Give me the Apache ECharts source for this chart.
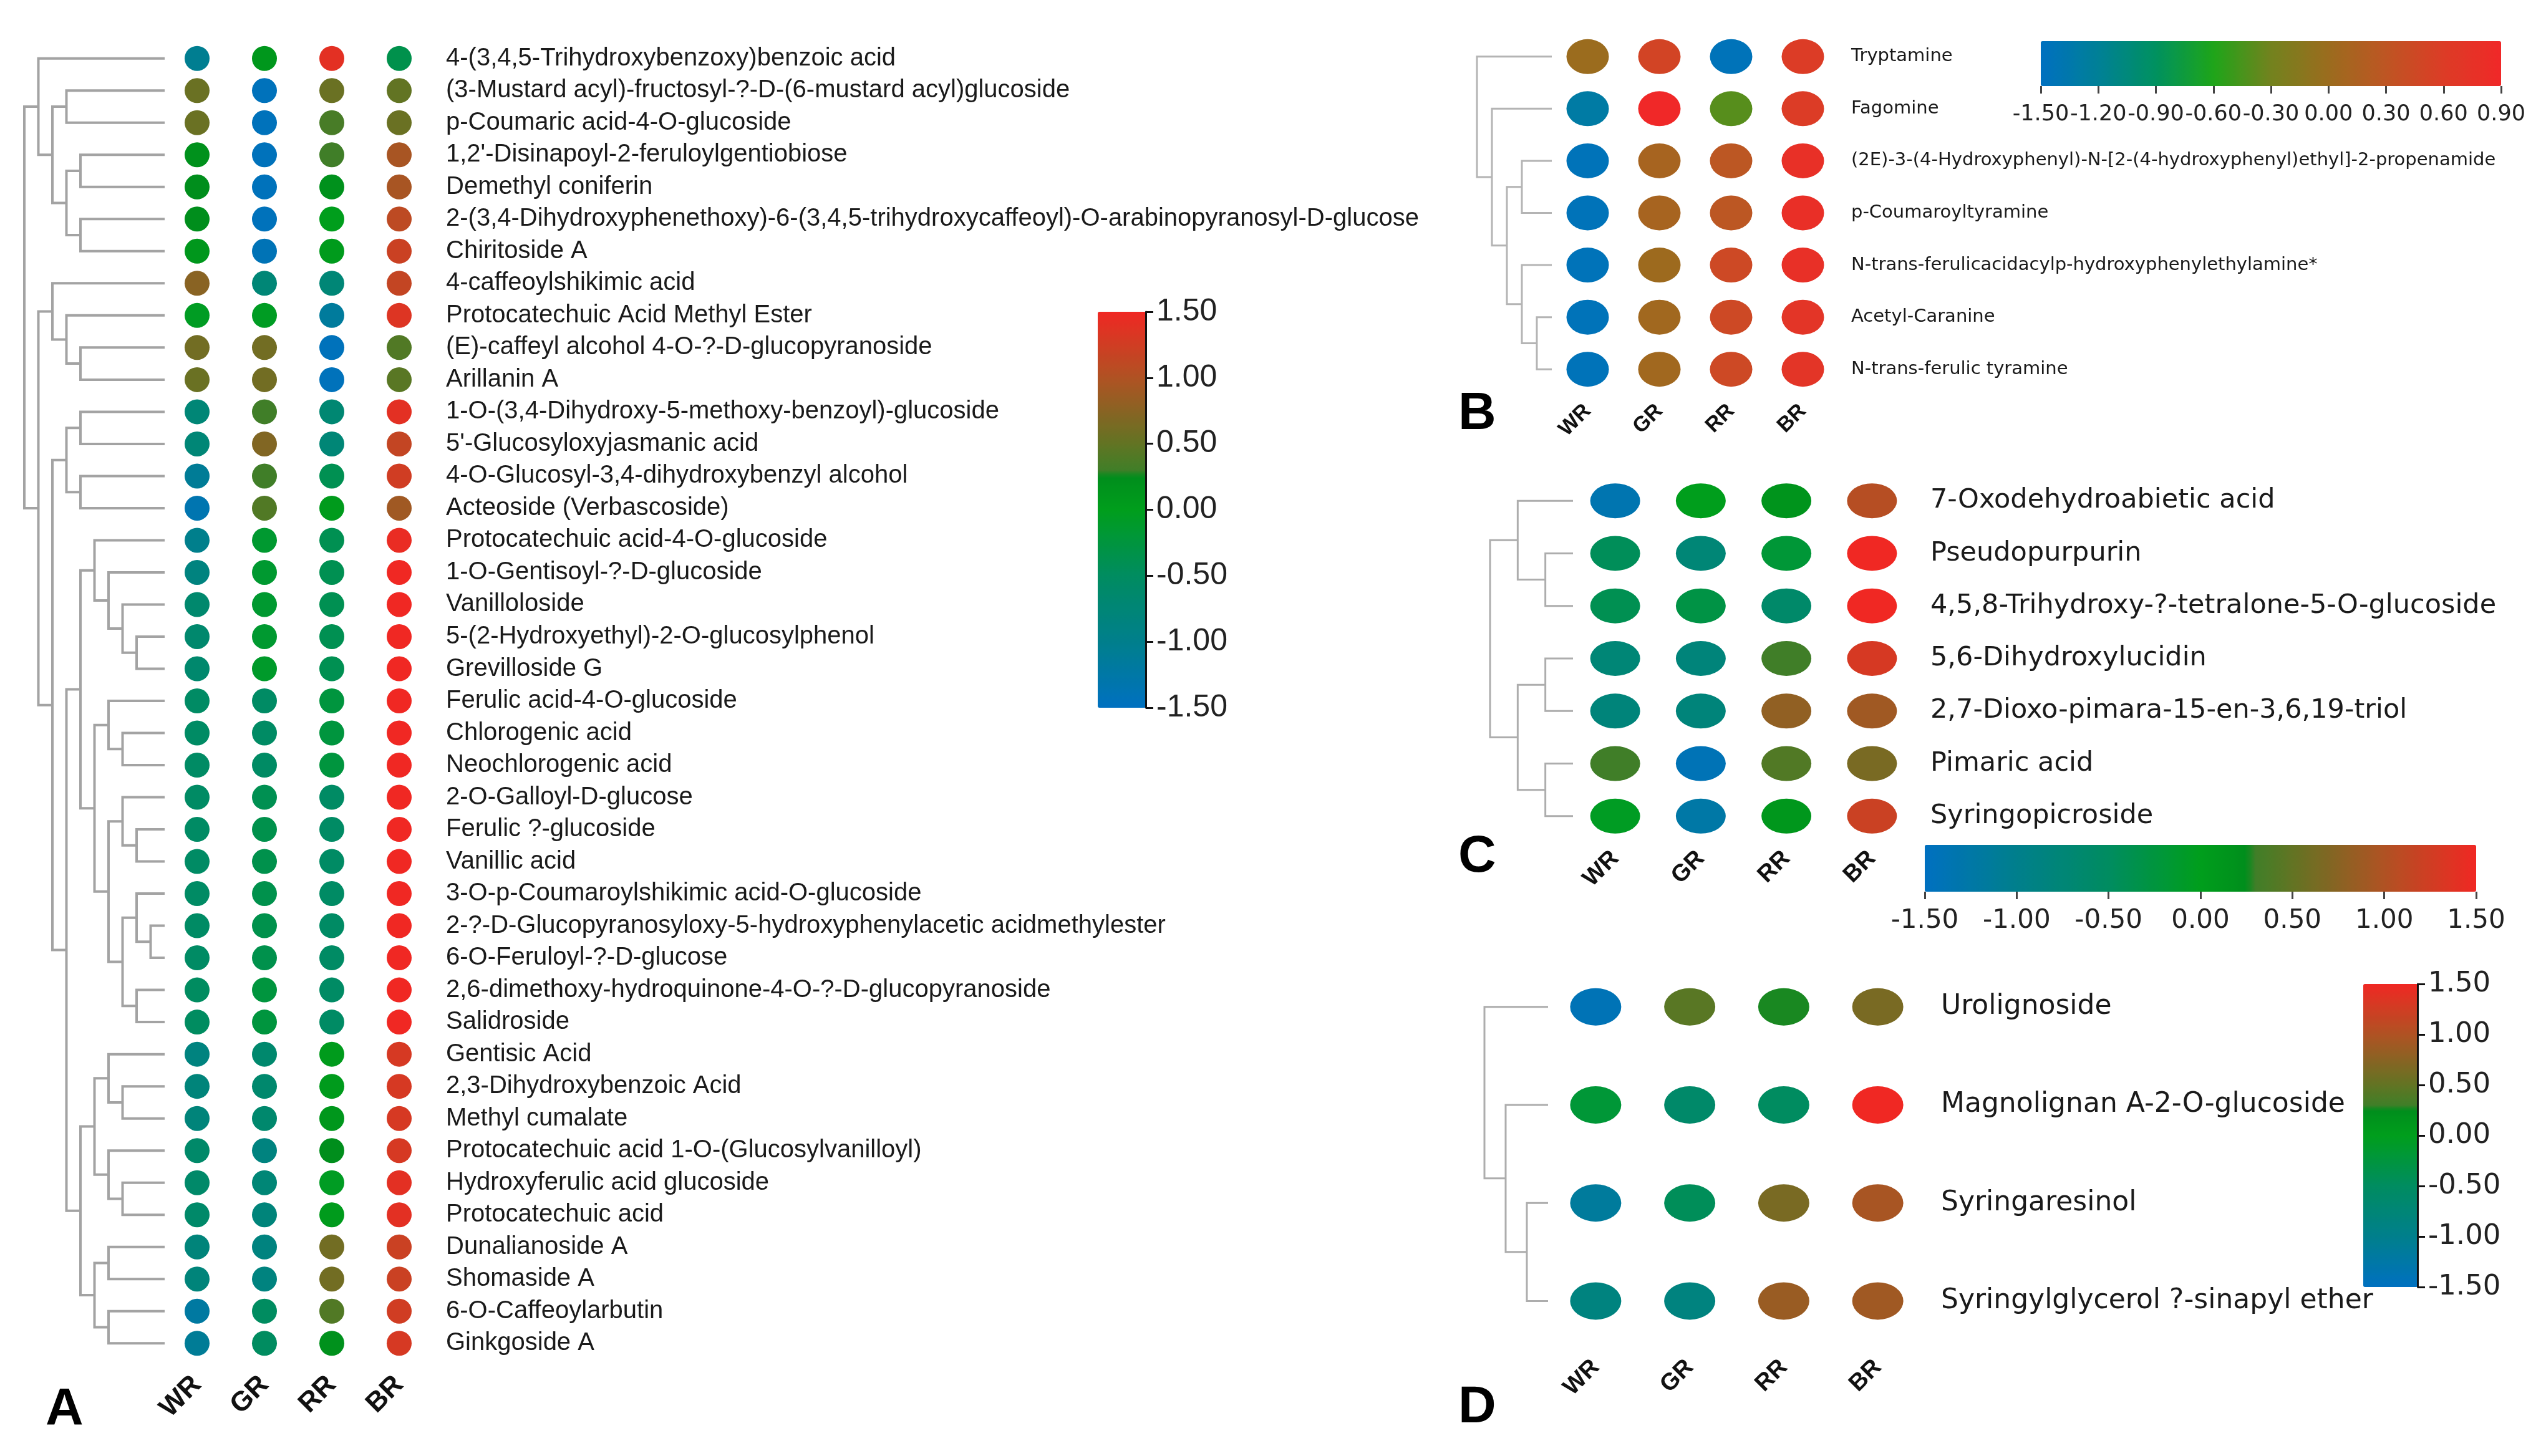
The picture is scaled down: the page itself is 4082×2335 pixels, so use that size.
<!DOCTYPE html>
<html><head><meta charset="utf-8">
<script src="https://cdn.jsdelivr.net/npm/echarts@6/dist/echarts.min.js"></script>
<style>html,body{margin:0;padding:0;background:#fff}#c{width:4082px;height:2335px}</style>
</head><body><div id="c"></div>
<script>
// ---------------- DATA ----------------
const groups = ['WR', 'GR', 'RR', 'BR'];

const namesA = [
 '4-(3,4,5-Trihydroxybenzoxy)benzoic acid',
 '(3-Mustard acyl)-fructosyl-?-D-(6-mustard acyl)glucoside',
 'p-Coumaric acid-4-O-glucoside',
 "1,2'-Disinapoyl-2-feruloylgentiobiose",
 'Demethyl coniferin',
 '2-(3,4-Dihydroxyphenethoxy)-6-(3,4,5-trihydroxycaffeoyl)-O-arabinopyranosyl-D-glucose',
 'Chiritoside A',
 '4-caffeoylshikimic acid',
 'Protocatechuic Acid Methyl Ester',
 '(E)-caffeyl alcohol 4-O-?-D-glucopyranoside',
 'Arillanin A',
 '1-O-(3,4-Dihydroxy-5-methoxy-benzoyl)-glucoside',
 "5'-Glucosyloxyjasmanic acid",
 '4-O-Glucosyl-3,4-dihydroxybenzyl alcohol',
 'Acteoside (Verbascoside)',
 'Protocatechuic acid-4-O-glucoside',
 '1-O-Gentisoyl-?-D-glucoside',
 'Vanilloloside',
 '5-(2-Hydroxyethyl)-2-O-glucosylphenol',
 'Grevilloside G',
 'Ferulic acid-4-O-glucoside',
 'Chlorogenic acid',
 'Neochlorogenic acid',
 '2-O-Galloyl-D-glucose',
 'Ferulic ?-glucoside',
 'Vanillic acid',
 '3-O-p-Coumaroylshikimic acid-O-glucoside',
 '2-?-D-Glucopyranosyloxy-5-hydroxyphenylacetic acidmethylester',
 '6-O-Feruloyl-?-D-glucose',
 '2,6-dimethoxy-hydroquinone-4-O-?-D-glucopyranoside',
 'Salidroside',
 'Gentisic Acid',
 '2,3-Dihydroxybenzoic Acid',
 'Methyl cumalate',
 'Protocatechuic acid 1-O-(Glucosylvanilloyl)',
 'Hydroxyferulic acid glucoside',
 'Protocatechuic acid',
 'Dunalianoside A',
 'Shomaside A',
 '6-O-Caffeoylarbutin',
 'Ginkgoside A'
];
// columns: WR, GR, RR, BR
const valuesA = [
 [-1.05, 0.10, 1.40, -0.35],
 [0.55, -1.45, 0.55, 0.50],
 [0.55, -1.45, 0.35, 0.55],
 [0.20, -1.45, 0.30, 0.95],
 [0.25, -1.45, 0.20, 0.95],
 [0.25, -1.45, 0.00, 1.10],
 [0.10, -1.40, 0.05, 1.20],
 [0.75, -0.75, -0.75, 1.15],
 [-0.05, -0.05, -1.15, 1.35],
 [0.60, 0.60, -1.45, 0.40],
 [0.55, 0.60, -1.45, 0.45],
 [-0.75, 0.30, -0.70, 1.40],
 [-0.75, 0.70, -0.75, 1.15],
 [-1.10, 0.30, -0.40, 1.25],
 [-1.35, 0.40, 0.05, 0.90],
 [-1.00, -0.15, -0.40, 1.45],
 [-0.85, -0.15, -0.40, 1.50],
 [-0.65, -0.15, -0.40, 1.50],
 [-0.65, -0.15, -0.40, 1.50],
 [-0.65, -0.10, -0.40, 1.50],
 [-0.55, -0.55, -0.25, 1.50],
 [-0.55, -0.55, -0.25, 1.50],
 [-0.55, -0.55, -0.25, 1.50],
 [-0.55, -0.40, -0.55, 1.50],
 [-0.55, -0.35, -0.55, 1.50],
 [-0.55, -0.35, -0.55, 1.50],
 [-0.55, -0.35, -0.55, 1.50],
 [-0.55, -0.35, -0.55, 1.50],
 [-0.55, -0.35, -0.55, 1.50],
 [-0.50, -0.25, -0.55, 1.50],
 [-0.50, -0.25, -0.55, 1.50],
 [-0.85, -0.65, 0.05, 1.30],
 [-0.80, -0.65, 0.05, 1.30],
 [-0.80, -0.65, 0.10, 1.30],
 [-0.60, -0.85, 0.25, 1.30],
 [-0.60, -0.75, -0.05, 1.40],
 [-0.60, -0.80, 0.05, 1.40],
 [-0.80, -0.85, 0.60, 1.20],
 [-0.80, -0.85, 0.60, 1.20],
 [-1.20, -0.50, 0.40, 1.25],
 [-1.10, -0.50, 0.20, 1.30]
];
// dendrogram: [mergeLevel, left, right]; numbers are leaf rows
const treeA = [0,
  [1, 0, [2, [3, 1, 2], [3, [4, 3, 4], [4, 5, 6]]]],
  [1,
    [2, 7, [3, 8, [4, 9, 10]]],
    [2,
      [3, [4, 11, 12], [4, 13, 14]],
      [3,
        [4,
          [5, 15, [6, 16, [7, 17, [8, 18, 19]]]],
          [5, [6, 20, [7, 21, 22]],
              [6, [7, 23, [8, 24, 25]], [7, [8, 26, [9, 27, 28]], [8, 29, 30]]]]],
        [4,
          [5, [6, 31, [7, 32, 33]], [6, 34, [7, 35, 36]]],
          [5, [6, 37, 38], [6, 39, 40]]]]]]];
const leafLevelA = 10;

const namesB = ['Tryptamine', 'Fagomine',
 '(2E)-3-(4-Hydroxyphenyl)-N-[2-(4-hydroxyphenyl)ethyl]-2-propenamide',
 'p-Coumaroyltyramine', 'N-trans-ferulicacidacylp-hydroxyphenylethylamine*',
 'Acetyl-Caranine', 'N-trans-ferulic tyramine'];
const valuesB = [
 [0.00, 0.50, -1.45, 0.60],
 [-1.30, 0.90, -0.40, 0.60],
 [-1.45, 0.10, 0.28, 0.78],
 [-1.45, 0.10, 0.28, 0.80],
 [-1.45, 0.02, 0.45, 0.78],
 [-1.45, 0.05, 0.45, 0.70],
 [-1.45, 0.05, 0.45, 0.70]
];
const treeB = [0, 0, [1, 1, [2, [3, 2, 3], [3, 4, [4, 5, 6]]]]];
const leafLevelB = 5;

const namesC = ['7-Oxodehydroabietic acid', 'Pseudopurpurin',
 '4,5,8-Trihydroxy-?-tetralone-5-O-glucoside', '5,6-Dihydroxylucidin',
 '2,7-Dioxo-pimara-15-en-3,6,19-triol', 'Pimaric acid', 'Syringopicroside'];
const valuesC = [
 [-1.35, 0.00, 0.15, 1.05],
 [-0.45, -0.75, -0.20, 1.50],
 [-0.40, -0.30, -0.60, 1.50],
 [-0.75, -0.80, 0.30, 1.30],
 [-0.80, -0.80, 0.80, 0.90],
 [0.30, -1.40, 0.40, 0.65],
 [-0.05, -1.25, 0.10, 1.20]
];
const treeC = [0, [1, 0, [2, 1, 2]], [1, [2, 3, 4], [2, 5, 6]]];
const leafLevelC = 3;

const namesD = ['Urolignoside', 'Magnolignan A-2-O-glucoside', 'Syringaresinol',
 'Syringylglycerol ?-sinapyl ether'];
const valuesD = [
 [-1.40, 0.45, 0.27, 0.65],
 [-0.20, -0.60, -0.50, 1.50],
 [-1.15, -0.45, 0.65, 0.95],
 [-0.85, -0.85, 0.85, 0.90]
];
const treeD = [0, 0, [1, 1, [2, 2, 3]]];
const leafLevelD = 3;

// colour-scale ranges [min, max, tick interval]
const scaleA = [-1.5, 1.5, 0.5];
const scaleB = [-1.5, 0.9, 0.3];
const scaleC = [-1.5, 1.5, 0.5];
const scaleD = [-1.5, 1.5, 0.5];

// ---------------- STYLE ----------------
const stopsMain = [[-1.5,[0,112,192]],[-1.0,[0,127,140]],[-0.5,[0,140,96]],[0.0,[0,158,28]],
  [0.26,[0,141,28]],[0.29,[62,127,40]],[0.5,[98,116,35]],[1.0,[176,82,35]],[1.5,[240,40,35]]];
const stopsB = [[-1.5,[0,112,192]],[-1.2,[0,128,150]],[-0.9,[0,145,95]],[-0.6,[30,165,25]],
  [-0.3,[115,130,30]],[0.0,[155,108,30]],[0.3,[190,85,35]],[0.6,[220,60,38]],[0.9,[240,40,40]]];
function ramp(stops, n) {
  const lo = stops[0][0], hi = stops[stops.length - 1][0], out = [];
  for (let i = 0; i < n; i++) {
    const v = lo + (hi - lo) * i / (n - 1);
    let k = 0;
    while (k < stops.length - 2 && v > stops[k + 1][0]) k++;
    const [v0, c0] = stops[k], [v1, c1] = stops[k + 1];
    const t = Math.min(1, Math.max(0, (v - v0) / (v1 - v0)));
    out.push('rgb(' + c0.map((x, j) => Math.round(x + (c1[j] - x) * t)).join(',') + ')');
  }
  return out;
}
const ELLIPSE = 'path://M0 50 A50 50 0 1 1 100 50 A50 50 0 1 1 0 50 Z';
const SANS = 'Liberation Sans, Arial, sans-serif';
const WIDE = 'DejaVu Sans, sans-serif';

const grids = [], xAxes = [], yAxes = [], series = [], visualMaps = [];

function treeSegments(tree, leafLevel) {
  const segs = [];
  (function walk(n) {
    if (typeof n === 'number') return [leafLevel, n];
    const [h, a, b] = n;
    const pa = walk(a), pb = walk(b);
    segs.push({ coords: [pa, [h, pa[1]], [h, pb[1]], pb] });
    return [h, (pa[1] + pb[1]) / 2];
  })(tree);
  return segs;
}

function panel(p) {
  const gi = grids.length;
  grids.push({ left: p.dLeft, top: p.top, width: p.dWidth, height: p.height });
  grids.push({ left: p.gLeft, top: p.top, width: p.gWidth, height: p.height });
  xAxes.push({ gridIndex: gi, type: 'value', min: 0, max: p.leafLevel, show: false });
  yAxes.push({ gridIndex: gi, type: 'value', min: -0.5, max: p.names.length - 0.5, inverse: true, show: false });
  xAxes.push({ gridIndex: gi + 1, type: 'category', data: groups, position: 'bottom',
    axisLine: { show: false }, axisTick: { show: false }, splitLine: { show: false },
    axisLabel: { interval: 0, rotate: 45, margin: p.xMargin, fontSize: p.xFont, fontWeight: 'bold',
      fontFamily: SANS, color: '#111' } });
  yAxes.push({ gridIndex: gi + 1, type: 'category', data: p.names, inverse: true, position: 'right',
    axisLine: { show: false }, axisTick: { show: false }, splitLine: { show: false },
    axisLabel: { interval: 0, margin: p.lMargin, fontSize: p.lFont, fontFamily: p.lFamily, color: '#1a1a1a' } });
  series.push({ type: 'lines', coordinateSystem: 'cartesian2d', xAxisIndex: gi, yAxisIndex: gi,
    polyline: true, silent: true, data: treeSegments(p.tree, p.leafLevel),
    lineStyle: { color: p.lineColor, width: p.lineWidth, opacity: 1 } });
  const si = series.length;
  series.push({ type: 'scatter', xAxisIndex: gi + 1, yAxisIndex: gi + 1, silent: true,
    symbol: p.symbol, symbolSize: p.size, itemStyle: { opacity: 1 },
    data: p.values.flatMap((row, r) => row.map((v, c) => [c, r, v])) });
  return si;
}

function colorbar(o) {
  visualMaps.push({ type: 'continuous', seriesIndex: o.series, dimension: 2,
    min: o.scale[0], max: o.scale[1], orient: o.orient, left: o.x, top: o.y, z: 2,
    itemWidth: o.thick, itemHeight: o.len, calculable: false, padding: 0, hoverLink: false,
    inRange: { color: ramp(o.stops, 121) } });
  const gi = grids.length;
  const fmt = v => (Math.abs(v) < 1e-9 ? 0 : v).toFixed(2);
  const ax = { type: 'value', min: o.scale[0], max: o.scale[1], interval: o.scale[2], z: 8,
    axisLine: { show: o.line, lineStyle: { color: '#111', width: 3 } },
    axisTick: { show: true, length: 12, lineStyle: { color: o.line ? '#111' : '#444', width: 3 } },
    splitLine: { show: false },
    axisLabel: { formatter: fmt, fontSize: o.font, fontFamily: o.family, color: '#222', margin: o.margin,
      showMinLabel: true, showMaxLabel: true, hideOverlap: false } };
  if (o.orient === 'vertical') {
    grids.push({ left: o.x + o.thick - 1, top: o.y, width: 1, height: o.len });
    xAxes.push({ gridIndex: gi, type: 'value', show: false });
    yAxes.push(Object.assign({ gridIndex: gi, position: 'right' }, ax));
  } else {
    grids.push({ left: o.x, top: o.y + o.thick - 1, width: o.len, height: 1 });
    xAxes.push(Object.assign({ gridIndex: gi, position: 'bottom' }, ax));
    yAxes.push({ gridIndex: gi, type: 'value', show: false });
  }
}

const sA = panel({ names: namesA, values: valuesA, tree: treeA, leafLevel: leafLevelA,
  dLeft: 39, dWidth: 225, gLeft: 262, gWidth: 432, top: 68, height: 2112,
  lFont: 40, lFamily: SANS, lMargin: 21, xFont: 44, xMargin: 34,
  symbol: 'circle', size: 40, lineColor: '#a3a3a3', lineWidth: 4 });
const sB = panel({ names: namesB, values: valuesB, tree: treeB, leafLevel: leafLevelB,
  dLeft: 2368, dWidth: 120, gLeft: 2488, gWidth: 460, top: 49, height: 585,
  lFont: 29, lFamily: WIDE, lMargin: 20, xFont: 34, xMargin: 20,
  symbol: ELLIPSE, size: [68, 56], lineColor: '#b4b4b4', lineWidth: 3 });
const sC = panel({ names: namesC, values: valuesC, tree: treeC, leafLevel: leafLevelC,
  dLeft: 2389, dWidth: 133, gLeft: 2521, gWidth: 549, top: 761, height: 590,
  lFont: 43, lFamily: WIDE, lMargin: 25, xFont: 38, xMargin: 20,
  symbol: ELLIPSE, size: [80, 56], lineColor: '#adadad', lineWidth: 3 });
const sD = panel({ names: namesD, values: valuesD, tree: treeD, leafLevel: leafLevelD,
  dLeft: 2380, dWidth: 102, gLeft: 2483, gWidth: 603, top: 1536, height: 629,
  lFont: 44, lFamily: WIDE, lMargin: 26, xFont: 38, xMargin: 22,
  symbol: ELLIPSE, size: [82, 60], lineColor: '#adadad', lineWidth: 3 });

colorbar({ series: sA, scale: scaleA, stops: stopsMain, orient: 'vertical', x: 1760, y: 500, thick: 78, len: 635,
  line: true, font: 50, family: SANS, margin: 16 });
colorbar({ series: sB, scale: scaleB, stops: stopsB, orient: 'horizontal', x: 3272, y: 66, thick: 72, len: 738,
  line: false, font: 35, family: WIDE, margin: 28 });
colorbar({ series: sC, scale: scaleC, stops: stopsMain, orient: 'horizontal', x: 3086, y: 1355, thick: 75, len: 884,
  line: false, font: 42, family: WIDE, margin: 26 });
colorbar({ series: sD, scale: scaleD, stops: stopsMain, orient: 'vertical', x: 3789, y: 1578, thick: 88, len: 486,
  line: true, font: 45, family: WIDE, margin: 16 });

const letters = [['A', 73, 2262], ['B', 2338, 665], ['C', 2338, 1375], ['D', 2338, 2258]];

const chart = echarts.init(document.getElementById('c'), null, { renderer: 'canvas' });
chart.setOption({
  backgroundColor: '#fff',
  animation: false,
  grid: grids, xAxis: xAxes, yAxis: yAxes, series: series, visualMap: visualMaps,
  graphic: letters.map(([t, x, y]) => ({ type: 'text', silent: true,
    style: { text: t, x: x, y: y, font: 'bold 84px "Liberation Sans", Arial', fill: '#000',
      align: 'left', verticalAlign: 'middle' } }))
});
</script></body></html>
